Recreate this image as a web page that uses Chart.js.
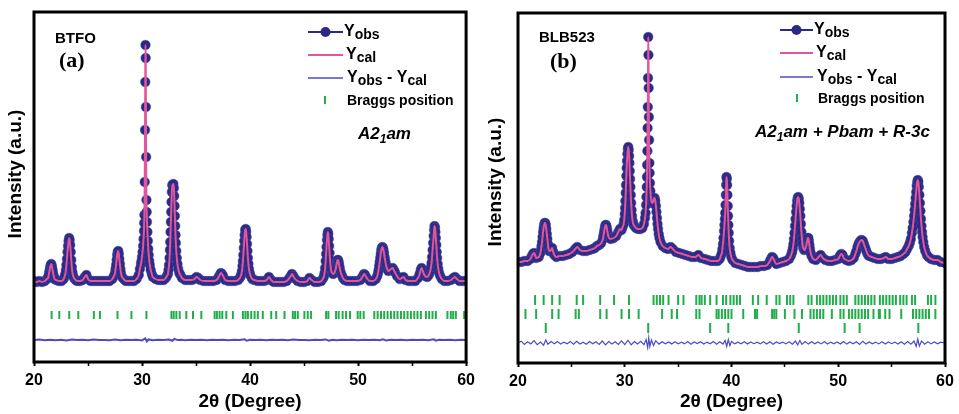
<!DOCTYPE html>
<html>
<head>
<meta charset="utf-8">
<script src="https://cdn.jsdelivr.net/npm/chart.js@4.4.0/dist/chart.umd.min.js"></script>
<style>
  html, body { margin: 0; padding: 0; background: #fff; }
  #wrapA { position: absolute; left: 0; top: 0; width: 480px; height: 414px; }
  #wrapB { position: absolute; left: 480px; top: 0; width: 479px; height: 414px; }
</style>
</head>
<body>
<div id="wrapA"><canvas id="chartA" width="480" height="414"></canvas></div>
<div id="wrapB"><canvas id="chartB" width="479" height="414"></canvas></div>
<script>
// ---- data: [2theta, intensity a.u.] ----
const xTickLabels = [20, 30, 40, 50, 60];

// (a) BTFO observed pattern
const obsA = [
  [20,81],[20.25,80],[20.5,81],[20.75,80],[21,81],[21.2,83],[21.3,84],[21.35,86],[21.4,89],[21.45,92],
  [21.5,95],[21.55,97],[21.6,98],[21.65,96],[21.7,93],[21.75,90],[21.8,87],[21.85,85],[21.9,83],[22.05,82],
  [22.3,81],[22.55,81],[22.75,83],[22.85,86],[22.9,88],[22.95,92],[23,97],[23.05,103],[23.1,110],[23.15,116],
  [23.2,121],[23.25,124],[23.3,122],[23.35,117],[23.4,110],[23.45,102],[23.5,95],[23.55,90],[23.6,87],[23.7,84],
  [23.85,82],[24,81],[24.25,81],[24.5,82],[24.7,85],[24.85,87],[25,83],[25.25,81],[25.5,81],[25.75,81],
  [26,81],[26.25,81],[26.5,81],[26.75,81],[27,81],[27.25,83],[27.4,86],[27.5,89],[27.55,93],[27.6,97],
  [27.65,102],[27.7,107],[27.75,110],[27.8,111],[27.85,108],[27.9,103],[27.95,98],[28,93],[28.05,89],[28.15,85],
  [28.3,83],[28.5,81],[28.75,81],[29,81],[29.25,81],[29.5,83],[29.7,87],[29.8,93],[29.9,98],[29.95,101],
  [30,105],[30.05,110],[30.1,116],[30.14,123],[30.18,131],[30.2,139],[30.22,147],[30.25,180],[30.28,232],[30.3,280],
  [30.32,317],[30.34,304],[30.36,255],[30.38,205],[30.41,162],[30.43,150],[30.46,140],[30.5,130],[30.54,121],[30.58,113],
  [30.62,107],[30.67,101],[30.72,97],[30.8,92],[30.9,88],[31,85],[31.25,83],[31.5,82],[31.75,82],[32,82],
  [32.2,84],[32.3,86],[32.4,88],[32.45,92],[32.5,97],[32.55,104],[32.58,112],[32.61,120],[32.64,130],[32.67,140],
  [32.7,150],[32.73,160],[32.76,170],[32.8,177],[32.85,176],[32.9,178],[32.95,174],[32.98,166],[33.01,156],[33.04,146],
  [33.07,136],[33.1,127],[33.13,119],[33.17,111],[33.22,104],[33.28,98],[33.35,93],[33.45,89],[33.55,87],[33.7,84],
  [34,82],[34.3,82],[34.6,82],[34.85,83],[35.05,85],[35.2,84],[35.4,82],[35.7,81],[36,81],[36.3,81],
  [36.6,81],[36.9,82],[37.1,85],[37.2,87],[37.3,89],[37.4,88],[37.5,86],[37.7,82],[38,81],[38.3,81],
  [38.6,81],[38.9,82],[39.05,84],[39.15,86],[39.2,88],[39.25,91],[39.3,96],[39.34,101],[39.38,107],[39.42,114],
  [39.46,121],[39.5,127],[39.55,132],[39.6,133],[39.64,130],[39.68,125],[39.72,118],[39.76,111],[39.8,104],[39.85,98],
  [39.9,93],[39.97,89],[40.05,86],[40.2,83],[40.4,82],[40.7,81],[41,81],[41.3,81],[41.55,82],[41.75,85],
  [41.95,82],[42.2,80],[42.5,80],[42.8,80],[43.1,80],[43.4,81],[43.65,84],[43.78,86],[43.88,88],[44,86],
  [44.1,84],[44.4,81],[44.7,80],[45,80],[45.3,81],[45.5,84],[45.7,82],[46,80],[46.3,80],[46.6,81],
  [46.78,84],[46.85,86],[46.9,89],[46.95,94],[47,101],[47.04,108],[47.08,115],[47.12,122],[47.16,127],[47.2,130],
  [47.24,128],[47.28,123],[47.32,116],[47.36,109],[47.4,102],[47.45,96],[47.52,91],[47.6,89],[47.7,88],[47.85,90],
  [47.95,94],[48,97],[48.05,100],[48.1,102],[48.15,102],[48.2,100],[48.25,97],[48.3,94],[48.38,90],[48.48,87],
  [48.6,84],[48.75,82],[49,81],[49.3,81],[49.6,81],[49.9,81],[50.2,82],[50.35,84],[50.45,86],[50.55,88],
  [50.65,87],[50.8,84],[51.1,81],[51.4,81],[51.65,83],[51.78,86],[51.85,89],[51.9,92],[51.95,96],[52,100],
  [52.05,104],[52.1,108],[52.15,112],[52.2,114],[52.25,115],[52.3,114],[52.35,112],[52.4,109],[52.45,105],[52.5,102],
  [52.55,99],[52.6,96],[52.7,93],[52.8,91],[52.95,92],[53.05,93],[53.2,94],[53.3,92],[53.4,90],[53.6,86],
  [53.85,83],[54.05,84],[54.2,85],[54.4,82],[54.7,81],[55,81],[55.3,81],[55.55,84],[55.7,88],[55.8,92],
  [55.88,94],[55.96,92],[56.05,89],[56.2,86],[56.4,85],[56.55,87],[56.65,90],[56.7,92],[56.75,95],[56.8,99],
  [56.85,105],[56.9,112],[56.95,119],[57,126],[57.04,132],[57.08,136],[57.12,134],[57.16,130],[57.2,124],[57.24,117],
  [57.28,110],[57.32,104],[57.37,98],[57.43,93],[57.5,89],[57.6,86],[57.75,83],[58,81],[58.3,81],[58.6,82],
  [58.82,84],[58.97,85],[59.15,83],[59.4,81],[59.7,81],[60,81]
];
// calculated curve sits on the observed points at this scale
const calA = obsA;

const diffA = [
  [20,22],[20.5,22.4],[21,21.7],[21.5,22.3],[22,21.8],[22.5,22.2],[23,21.6],[23.5,22.5],[24,21.9],[24.5,22.2],
  [25,21.8],[25.5,22.4],[26,21.9],[26.5,22.1],[27,21.7],[27.5,22.4],[28,21.8],[28.5,22.2],[29,21.9],[29.5,22.3],
  [30,21.6],[30.3,23.6],[30.45,20.6],[30.6,22.6],[31,21.8],[31.5,22.3],[32,21.9],[32.5,22.4],[32.8,21.2],[33,23.1],
  [33.3,21.9],[33.7,22.2],[34,21.8],[34.5,22.3],[35,21.9],[35.5,22.2],[36,21.8],[36.5,22.3],[37,21.9],[37.5,22.2],
  [38,21.7],[38.5,22.3],[39,21.9],[39.5,22.8],[39.7,21.3],[40,22.2],[40.5,21.9],[41,22.2],[41.5,21.8],[42,22.3],
  [42.5,21.9],[43,22.2],[43.5,21.8],[44,22.4],[44.5,21.9],[45,22.1],[45.5,21.7],[46,22.3],[46.5,21.9],[47,22.6],
  [47.3,21.4],[47.6,22.3],[48,21.8],[48.5,22.3],[49,21.9],[49.5,22.2],[50,21.8],[50.5,22.3],[51,21.9],[51.5,22.2],
  [52,21.7],[52.3,22.7],[52.6,21.6],[53,22.2],[53.5,21.9],[54,22.3],[54.5,21.8],[55,22.2],[55.5,21.9],[56,22.3],
  [56.5,21.8],[57,22.7],[57.2,21.3],[57.5,22.3],[58,21.9],[58.5,22.2],[59,21.8],[59.5,22.3],[60,22]
];

const braggA = [
  21.63,22.34,23.26,24.1,25.54,26.1,27.73,29.02,30.41,32.72,32.93,33.18,33.49,34.1,34.72,35.49,36.72,36.93,37.18,37.43,
  37.8,38.41,39.34,39.58,39.8,40.11,40.42,40.72,41.18,41.96,42.42,43.19,43.96,44.17,44.42,45.03,45.34,45.65,47.04,47.25,
  47.96,48.2,48.57,48.89,49.25,49.96,50.21,50.52,51.5,51.81,52.12,52.42,52.73,53.04,53.35,53.65,53.97,54.27,54.58,54.89,
  55.2,55.5,55.81,56.28,56.58,56.89,57.2,58.27,58.58,58.8,59.05,59.82
];

// (b) BLB523 observed pattern
const obsB = [
  [20,101],[20.3,101],[20.6,102],[20.9,102],[21.15,104],[21.3,107],[21.4,109],[21.5,110],[21.6,108],[21.7,105],
  [21.95,106],[22.1,110],[22.15,113],[22.2,117],[22.25,121],[22.3,126],[22.35,131],[22.4,135],[22.45,138],[22.5,140],
  [22.55,140],[22.6,138],[22.65,134],[22.7,129],[22.75,124],[22.8,119],[22.85,115],[22.92,112],[23,112],[23.1,113],
  [23.2,115],[23.3,111],[23.4,108],[23.6,106],[23.9,107],[24.2,107],[24.5,108],[24.8,109],[25.1,111],[25.35,114],
  [25.55,116],[25.8,113],[26.1,112],[26.4,112],[26.7,113],[27,114],[27.2,115],[27.4,117],[27.6,118],[27.8,120],
  [27.95,124],[28,127],[28.05,130],[28.1,133],[28.15,136],[28.2,138],[28.25,138],[28.3,136],[28.35,133],[28.4,130],
  [28.45,127],[28.55,125],[28.7,124],[28.95,125],[29.2,127],[29.4,131],[29.55,134],[29.7,133],[29.8,136],[29.9,139],
  [29.95,143],[30,149],[30.03,155],[30.06,162],[30.09,170],[30.12,178],[30.15,187],[30.18,195],[30.21,202],[30.25,209],
  [30.29,214],[30.33,216],[30.37,213],[30.41,207],[30.44,200],[30.47,192],[30.5,184],[30.53,176],[30.56,168],[30.6,160],
  [30.64,153],[30.68,147],[30.74,142],[30.8,139],[30.9,137],[31.05,135],[31.25,134],[31.45,134],[31.65,135],[31.8,139],
  [31.9,145],[31.95,150],[32,158],[32.03,166],[32.06,176],[32.08,186],[32.1,198],[32.12,212],[32.14,235],[32.16,256],
  [32.18,285],[32.2,326],[32.22,308],[32.24,275],[32.26,246],[32.28,223],[32.31,200],[32.33,190],[32.36,180],[32.4,172],
  [32.45,166],[32.5,162],[32.58,160],[32.65,161],[32.72,164],[32.8,165],[32.86,162],[32.92,157],[32.97,151],[33.02,145],
  [33.07,139],[33.12,134],[33.18,129],[33.25,125],[33.35,121],[33.55,117],[33.8,115],[34.05,114],[34.3,116],[34.5,114],
  [34.8,111],[35.1,110],[35.4,109],[35.7,108],[36,107],[36.3,106],[36.6,106],[36.9,108],[37.15,105],[37.5,104],
  [37.8,103],[38.1,102],[38.4,102],[38.7,102],[38.9,104],[39,107],[39.1,110],[39.15,114],[39.2,119],[39.25,125],
  [39.3,132],[39.34,138],[39.38,144],[39.41,150],[39.44,158],[39.47,168],[39.5,178],[39.53,186],[39.56,184],[39.59,178],
  [39.62,168],[39.65,157],[39.68,147],[39.71,138],[39.74,130],[39.78,122],[39.83,115],[39.9,110],[39.98,106],[40.1,103],
  [40.35,100],[40.65,99],[40.95,98],[41.25,97],[41.55,96],[41.85,96],[42.15,96],[42.45,96],[42.75,97],[43.05,97],
  [43.35,98],[43.6,102],[43.7,104],[43.8,106],[43.9,105],[43.98,103],[44.2,99],[44.5,100],[44.8,101],[45.1,102],
  [45.4,104],[45.55,107],[45.65,110],[45.7,112],[45.75,115],[45.8,119],[45.85,124],[45.9,130],[45.95,137],[46,144],
  [46.05,151],[46.1,157],[46.15,162],[46.2,165],[46.25,166],[46.3,164],[46.35,160],[46.4,154],[46.45,147],[46.5,139],
  [46.55,131],[46.6,124],[46.65,119],[46.72,115],[46.8,113],[46.9,114],[47,117],[47.05,120],[47.1,123],[47.15,125],
  [47.2,125],[47.25,122],[47.3,118],[47.35,114],[47.42,110],[47.5,107],[47.65,104],[47.9,103],[48.15,106],[48.35,108],
  [48.55,105],[48.8,103],[49.1,102],[49.4,102],[49.7,103],[50,104],[50.1,106],[50.2,108],[50.3,109],[50.4,108],
  [50.5,105],[50.75,103],[51,102],[51.25,103],[51.45,105],[51.6,109],[51.7,112],[51.8,116],[51.9,119],[52,121],
  [52.1,122.5],[52.2,123],[52.3,122],[52.4,119],[52.5,116],[52.6,113],[52.7,110],[52.8,108],[52.9,107],[53.15,106],
  [53.4,105],[53.7,104],[54,104],[54.25,105],[54.45,106],[54.7,104],[55,104],[55.3,105],[55.6,106],[55.85,107],
  [56.1,109],[56.3,111],[56.45,114],[56.6,117],[56.7,120],[56.8,124],[56.9,130],[56.97,135],[57.04,141],[57.1,147],
  [57.15,153],[57.2,159],[57.25,165],[57.3,171],[57.35,177],[57.4,181],[57.45,183],[57.5,181],[57.55,176],[57.6,168],
  [57.65,160],[57.7,152],[57.75,144],[57.8,137],[57.85,131],[57.9,126],[57.97,121],[58.05,116],[58.15,112],[58.3,108],
  [58.45,106],[58.7,104],[59,103],[59.3,103],[59.6,101],[60,100]
];
const calB = obsB;

const diffB = [
  [20,20],[20.3,21.8],[20.6,18.6],[20.9,21.2],[21.2,19.1],[21.5,22.3],[21.8,18.4],[22.1,21],[22.4,17.8],[22.6,23],
  [22.8,18.7],[23.1,21.4],[23.4,19.2],[23.7,21.5],[24,18.9],[24.3,20.9],[24.6,19.3],[24.9,21.6],[25.2,18.7],[25.5,21.8],
  [25.8,19],[26.1,20.8],[26.4,18.8],[26.7,21.4],[27,19.2],[27.3,21.2],[27.6,18.5],[27.9,22],[28.2,18.2],[28.5,21.5],
  [28.8,19],[29.1,21.3],[29.4,18.6],[29.7,22.2],[30,18.4],[30.3,22.8],[30.6,18.2],[30.9,21.4],[31.2,19.1],[31.5,21.6],
  [31.8,18.3],[32,23.4],[32.15,15.5],[32.25,25.5],[32.35,16.5],[32.5,23],[32.7,17.6],[32.9,22.3],[33.2,18.9],[33.5,21.3],
  [33.8,19.2],[34.1,21.1],[34.4,18.9],[34.7,21.2],[35,19.3],[35.3,20.8],[35.6,19.1],[35.9,21.4],[36.2,18.8],[36.5,21],
  [36.8,19.4],[37.1,21.3],[37.4,19],[37.7,20.9],[38,19.2],[38.3,21.4],[38.6,18.8],[38.9,21.2],[39.2,18.9],[39.4,22.6],
  [39.55,16.5],[39.7,23.5],[39.85,17.4],[40,21.5],[40.3,19.2],[40.6,20.9],[40.9,19.3],[41.2,21.2],[41.5,18.9],[41.8,21],
  [42.1,19.3],[42.4,20.8],[42.7,19.1],[43,21.2],[43.3,19],[43.6,21.3],[43.9,18.7],[44.2,21.1],[44.5,19.4],[44.8,20.9],
  [45.1,19.1],[45.4,21.3],[45.7,18.8],[46,21.9],[46.2,18],[46.4,22.4],[46.6,18.6],[46.9,21.4],[47.2,18.9],[47.5,21.3],
  [47.8,19.2],[48.1,21],[48.4,19.1],[48.7,21.2],[49,19],[49.3,20.9],[49.6,19.3],[49.9,21.1],[50.2,19],[50.5,21.4],
  [50.8,18.9],[51.1,21],[51.4,19.2],[51.7,21.3],[52,18.6],[52.3,21.8],[52.6,19],[52.9,21.1],[53.2,19.2],[53.5,20.9],
  [53.8,19.1],[54.1,21.2],[54.4,18.9],[54.7,21],[55,19.3],[55.3,20.9],[55.6,19],[55.9,21.3],[56.2,18.8],[56.5,21.4],
  [56.8,18.9],[57.1,22],[57.3,16.5],[57.45,24],[57.6,17],[57.8,22],[58.1,18.8],[58.4,21.2],[58.7,19.1],[59,21],
  [59.3,19.2],[59.6,20.9],[60,20]
];

// three phases: A2_1am, Pbam, R-3c
const braggB1 = [
  21.6,22.4,23.2,23.9,25.5,26.1,27.7,29.0,30.4,32.7,33.0,33.3,33.6,34.1,35.0,35.5,36.7,37.0,37.2,37.5,
  38.0,38.6,39.2,39.5,39.9,40.2,40.5,40.8,42.0,42.5,43.3,44.2,44.5,45.2,45.5,45.8,47.2,47.5,48.0,48.3,
  48.6,48.9,49.2,49.5,49.8,50.2,50.5,50.8,51.6,51.9,52.2,52.5,52.8,53.1,53.4,53.9,54.2,54.5,54.8,55.1,
  55.4,55.8,56.1,56.4,56.9,57.2,58.4,58.7,59.1,60.0
];
const braggB2 = [
  20.7,21.7,23.2,23.8,25.4,25.7,27.7,28.3,29.7,30.4,31.3,33.5,34.4,34.9,36.7,37.0,38.6,38.8,39.1,39.4,
  39.7,40.0,41.1,42.2,42.4,43.8,44.0,44.2,45.0,45.9,46.6,47.4,47.7,48.0,48.3,48.6,49.4,50.2,50.5,51.0,
  51.3,51.6,51.9,52.2,52.5,52.8,53.3,53.8,53.9,54.4,54.8,55.9,57.0,57.3,57.6,57.9,58.2,58.5,59.1
];
const braggB3 = [22.6,32.2,38.0,39.7,46.3,50.6,52.0,57.5];

// ---- drawing ----
const FONT = '"Liberation Sans", Arial, sans-serif';
const NAVY = '#2b2a80';
const PINK = '#e0559c';
const DIFF = '#4a4cc0';
const GREEN = '#22ad4b';

function drawParts(ctx, x, y, parts, size, subSize, drop, style) {
  for (const [t, sub] of parts) {
    ctx.font = style + ' ' + (sub ? subSize : size) + 'px ' + FONT;
    ctx.fillText(t, x, y + (sub ? drop : 0));
    x += ctx.measureText(t).width;
  }
}

const decor = {
  id: 'decor',
  afterDatasetsDraw(chart, args, o) {
    const ctx = chart.ctx, a = chart.chartArea;
    ctx.save();
    ctx.strokeStyle = '#000';
    ctx.lineWidth = 3;
    ctx.strokeRect(a.left, a.top, a.right - a.left, a.bottom - a.top);

    ctx.fillStyle = '#000';
    ctx.textAlign = 'left';
    ctx.textBaseline = 'alphabetic';
    ctx.font = 'bold 15px ' + FONT;
    ctx.fillText(o.sample, o.sampleX, o.sampleY);
    ctx.font = 'bold 22px "Liberation Serif", "Times New Roman", serif';
    ctx.fillText(o.letter, o.letterX, o.letterY);

    // legend
    const L = o.legend, r = L.rows;
    ctx.lineWidth = 2;
    ctx.strokeStyle = NAVY;
    ctx.beginPath(); ctx.moveTo(L.x0, r[0]); ctx.lineTo(L.x1, r[0]); ctx.stroke();
    ctx.fillStyle = NAVY;
    ctx.beginPath(); ctx.arc((L.x0 + L.x1) / 2, r[0], 5, 0, Math.PI * 2); ctx.fill();
    ctx.strokeStyle = PINK;
    ctx.beginPath(); ctx.moveTo(L.x0, r[1]); ctx.lineTo(L.x1, r[1]); ctx.stroke();
    ctx.strokeStyle = DIFF;
    ctx.lineWidth = 1.5;
    ctx.beginPath(); ctx.moveTo(L.x0, r[2]); ctx.lineTo(L.x1, r[2]); ctx.stroke();
    ctx.strokeStyle = GREEN;
    ctx.lineWidth = 2;
    ctx.beginPath(); ctx.moveTo(L.bx, r[3] - 4); ctx.lineTo(L.bx, r[3] + 4); ctx.stroke();

    ctx.fillStyle = '#000';
    drawParts(ctx, L.tx, r[0] + 4, [['Y', 0], ['obs', 1]], 16, 14, 3, 'bold');
    drawParts(ctx, L.tx + 2, r[1] + 4, [['Y', 0], ['cal', 1]], 16, 14, 3, 'bold');
    drawParts(ctx, L.tx + 3, r[2] + 4, [['Y', 0], ['obs', 1], [' - ', 0], ['Y', 0], ['cal', 1]], 16, 14, 3, 'bold');
    ctx.font = 'bold 14px ' + FONT;
    ctx.fillText('Braggs position', L.btx, r[3] + 5);

    // phase label
    drawParts(ctx, o.phaseX, o.phaseY, o.phase, 17, 12, 4, 'italic bold');

    // y axis title
    ctx.translate(o.yTitleX, o.yTitleY);
    ctx.rotate(-Math.PI / 2);
    ctx.textAlign = 'center';
    ctx.textBaseline = 'middle';
    ctx.font = 'bold 19px ' + FONT;
    ctx.fillText('Intensity (a.u.)', 0, 0);
    ctx.restore();
  }
};

function braggSet(pos, level, len) {
  return {
    type: 'scatter',
    data: pos.map(p => ({ x: p, y: level })),
    pointStyle: 'line',
    rotation: 90,
    pointRadius: len,
    pointBorderColor: GREEN,
    pointBorderWidth: 2,
    pointHoverRadius: 0
  };
}

function makePanel(id, p) {
  const datasets = [
    { type: 'line', data: p.cal, showLine: true, borderColor: PINK, borderWidth: 2,
      pointRadius: 0, cubicInterpolationMode: 'monotone' },
    { type: 'scatter', data: p.obs, showLine: false, pointRadius: 4.8,
      pointBackgroundColor: NAVY, pointBorderColor: 'rgba(70,70,170,0.5)', pointBorderWidth: 1 },
    { type: 'line', data: p.diff, showLine: true, borderColor: DIFF, borderWidth: p.diffWidth,
      pointRadius: 0, tension: 0 }
  ];
  p.bragg.forEach(b => datasets.push(braggSet(b.pos, b.level, b.len)));

  return new Chart(document.getElementById(id), {
    type: 'scatter',
    data: { datasets },
    options: {
      responsive: false,
      animation: false,
      devicePixelRatio: 1,
      layout: { padding: { left: 0, right: p.padRight, top: p.padTop, bottom: 0 } },
      plugins: { legend: { display: false }, tooltip: { enabled: false }, decor: p.decor },
      scales: {
        x: {
          type: 'linear', min: 20, max: 60,
          afterFit: s => { s.height = p.xHeight; },
          border: { display: false },
          grid: { drawOnChartArea: false, drawTicks: true, tickLength: 4, tickColor: '#000',
                  tickWidth: c => (c.tick && c.tick.value % 10 === 0 ? 2 : 1.5) },
          ticks: { stepSize: 5, autoSkip: false, maxRotation: 0, padding: 5, color: '#000',
                   font: { family: FONT, size: 16, weight: 'bold' },
                   callback: v => (xTickLabels.includes(v) ? String(v) : '') },
          title: { display: true, text: '2θ (Degree)', color: '#000', padding: { top: 0, bottom: 1 },
                   font: { family: FONT, size: 19, weight: 'bold' } }
        },
        y: {
          min: 0, max: 350,
          afterFit: s => { s.width = p.yWidth; },
          border: { display: false },
          grid: { display: false },
          ticks: { display: false }
        }
      }
    },
    plugins: [decor]
  });
}

makePanel('chartA', {
  obs: obsA, cal: calA, diff: diffA, diffWidth: 2,
  bragg: [{ pos: braggA, level: 47, len: 4 }],
  padRight: 13, padTop: 12, xHeight: 52, yWidth: 34,
  decor: {
    sample: 'BTFO', sampleX: 55, sampleY: 43, letter: '(a)', letterX: 59, letterY: 67,
    legend: { x0: 308, x1: 343, tx: 344, rows: [32, 55, 78, 100], bx: 325, btx: 347 },
    phase: [['A2', 0], ['1', 1], ['am', 0]], phaseX: 358, phaseY: 139,
    yTitleX: 16, yTitleY: 174
  }
});

makePanel('chartB', {
  obs: obsB, cal: calB, diff: diffB, diffWidth: 1.2,
  bragg: [{ pos: braggB1, level: 63, len: 5 }, { pos: braggB2, level: 49, len: 5 }, { pos: braggB3, level: 35, len: 5 }],
  padRight: 14, padTop: 13, xHeight: 51, yWidth: 38,
  decor: {
    sample: 'BLB523', sampleX: 59, sampleY: 42, letter: '(b)', letterX: 70, letterY: 68,
    legend: { x0: 300, x1: 333, tx: 334, rows: [30, 53, 77, 98], bx: 317, btx: 338 },
    phase: [['A2', 0], ['1', 1], ['am + Pbam + R-3c', 0]], phaseX: 275, phaseY: 137,
    yTitleX: 16, yTitleY: 182
  }
});
</script>
</body>
</html>
